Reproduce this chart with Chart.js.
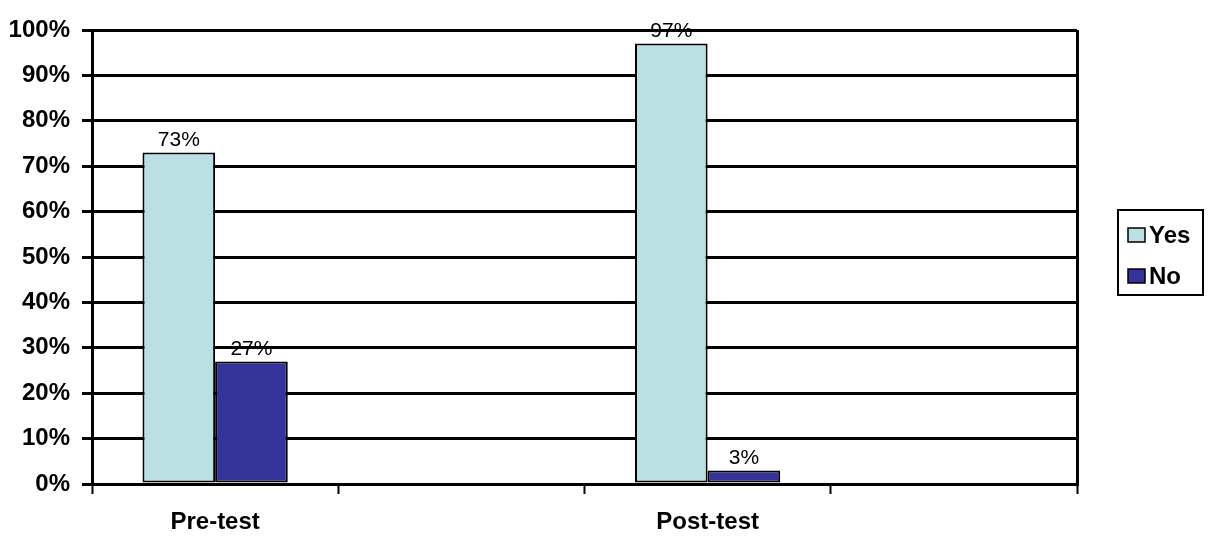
<!DOCTYPE html>
<html>
<head>
<meta charset="utf-8">
<script src="https://cdn.jsdelivr.net/npm/chart.js@4.4.1/dist/chart.umd.min.js"></script>
<style>
  html, body { margin: 0; padding: 0; background: #fff; }
  #c { display: block; }
</style>
</head>
<body>
<canvas id="c" width="1212" height="537" style="width:1212px;height:537px"></canvas>
<script>
// --- chart data ---
const categories = ["Pre-test", "", "Post-test", ""];
const yesValues = [73, null, 97, null];
const noValues = [27, null, 3, null];
const seriesNames = ["Yes", "No"];
const yTicks = [0, 10, 20, 30, 40, 50, 60, 70, 80, 90, 100];

const FONT = "'Liberation Sans', Arial, sans-serif";

// Value labels above each bar
const valueLabels = {
  id: "valueLabels",
  afterDatasetsDraw(chart) {
    const ctx = chart.ctx;
    ctx.save();
    ctx.font = "21px " + FONT;
    ctx.fillStyle = "#000";
    ctx.textAlign = "center";
    ctx.textBaseline = "bottom";
    chart.data.datasets.forEach((ds, di) => {
      chart.getDatasetMeta(di).data.forEach((bar, i) => {
        const v = ds.data[i];
        if (v == null) return;
        ctx.fillText(v + "%", bar.x, bar.y - 2);
      });
    });
    ctx.restore();
  }
};

// Boxed legend on the right, like the spreadsheet one
const boxLegend = {
  id: "boxLegend",
  afterDraw(chart) {
    const ctx = chart.ctx;
    const a = chart.chartArea;
    const x = a.right + 41, y = 210, w = 85, h = 85;
    ctx.save();
    ctx.lineWidth = 2;
    ctx.strokeStyle = "#000";
    ctx.strokeRect(x, y, w, h);
    ctx.font = "bold 24px " + FONT;
    ctx.textBaseline = "middle";
    ctx.textAlign = "left";
    chart.data.datasets.forEach((ds, i) => {
      const cy = y + 25 + i * 41;
      ctx.fillStyle = ds.backgroundColor;
      ctx.fillRect(x + 10, cy - 7, 17, 14);
      ctx.lineWidth = 1.5;
      ctx.strokeRect(x + 10, cy - 7, 17, 14);
      ctx.fillStyle = "#000";
      ctx.fillText(ds.label, x + 31, cy + 1);
    });
    ctx.restore();
  }
};

new Chart(document.getElementById("c"), {
  type: "bar",
  data: {
    labels: categories,
    datasets: [
      { label: seriesNames[0], data: yesValues, backgroundColor: "#BBE0E3",
        borderColor: "#000", borderWidth: 2, borderSkipped: false },
      { label: seriesNames[1], data: noValues, backgroundColor: "#333399",
        borderColor: "#000", borderWidth: 2, borderSkipped: false }
    ]
  },
  options: {
    responsive: false,
    animation: false,
    layout: { padding: { top: 30, right: 135, left: 0, bottom: 0 } },
    datasets: { bar: { categoryPercentage: 0.59, barPercentage: 1.0 } },
    plugins: {
      legend: { display: false },
      tooltip: { enabled: false }
    },
    scales: {
      x: {
        offset: true,
        afterFit: s => { s.height = 53; },
        grid: {
          offset: true,
          drawOnChartArea: true,
          // only the closing line on the right side is visible inside the plot
          color: c => (c.type === "scale" ? "#000" : "rgba(0,0,0,0)"),
          lineWidth: 3,
          tickColor: "#000",
          tickWidth: 2,
          tickLength: 10
        },
        border: { display: true, color: "#000", width: 3 },
        ticks: {
          color: "#000",
          font: { family: FONT, size: 24, weight: "bold" },
          padding: 14,
          maxRotation: 0,
          autoSkip: false
        }
      },
      y: {
        min: 0,
        max: 100,
        afterFit: s => { s.width = 92; },
        afterBuildTicks: s => { s.ticks = yTicks.map(v => ({ value: v })); },
        grid: { color: "#000", lineWidth: 3, tickLength: 10, tickWidth: 3 },
        border: { display: true, color: "#000", width: 3 },
        ticks: {
          color: "#000",
          padding: 12,
          font: { family: FONT, size: 24, weight: "bold" },
          callback: v => v + "%"
        }
      }
    }
  },
  plugins: [valueLabels, boxLegend]
});
</script>
</body>
</html>
